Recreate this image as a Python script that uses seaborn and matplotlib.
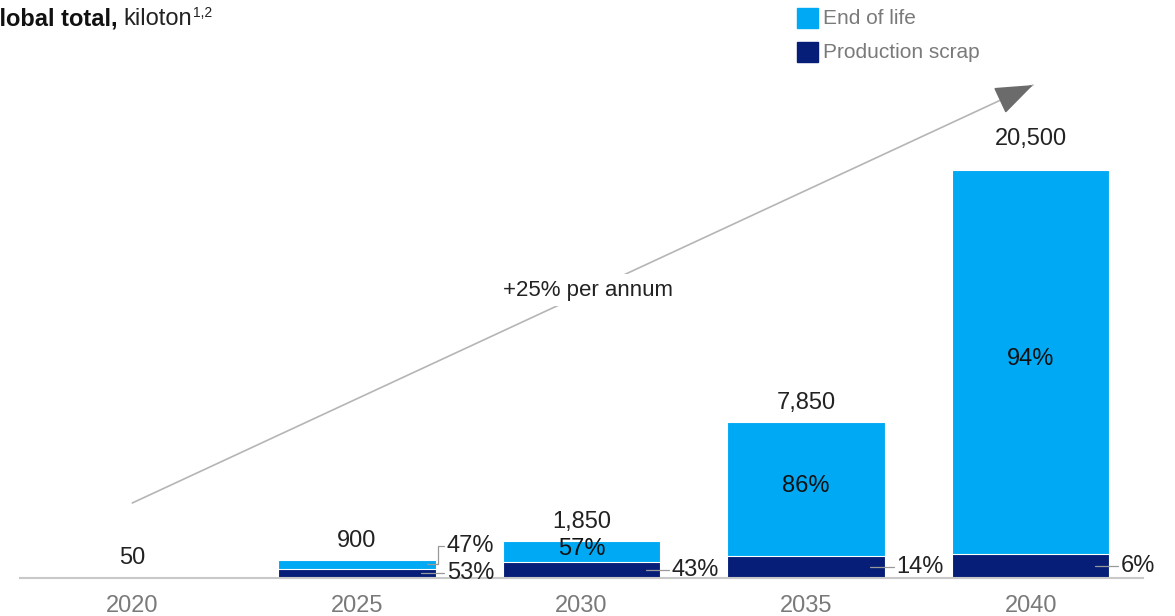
import numpy as np
import pandas as pd
import seaborn as sns
import matplotlib.pyplot as plt

years = ["2020", "2025", "2030", "2035", "2040"]
totals = [50, 900, 1850, 7850, 20500]
eol_share = [50, 47, 57, 86, 94]
scrap_share = [50, 53, 43, 14, 6]
inside_label = [False, False, True, True, True]

LIGHT = "#00A9F4"
DARK = "#061E78"

sns.set_theme(style="white")
plt.rcParams["font.family"] = ["Liberation Sans", "DejaVu Sans"]

df = pd.DataFrame({"year": years, "total": totals, "eol": eol_share, "scrap": scrap_share})
df["scrap_kt"] = df["total"] * df["scrap"] / 100

fig = plt.figure(figsize=(11.75, 6.16), dpi=100)
ax = fig.add_axes([20 / 1175, 38 / 616, (1143 - 20) / 1175, 578 / 616])

sns.barplot(data=df, x="year", y="total", color=LIGHT, width=0.7, ax=ax,
            edgecolor="white", linewidth=0.8, saturation=1)
sns.barplot(data=df, x="year", y="scrap_kt", color=DARK, width=0.7, ax=ax,
            edgecolor="white", linewidth=0.8, saturation=1)

ax.set_xlim(-0.5, 4.5)
ax.set_ylim(0, 29045)
ax.set_xlabel("")
ax.set_ylabel("")
ax.set_yticks([])
sns.despine(ax=ax, left=True, top=True, right=True)
ax.spines["bottom"].set_color("#c8c8c8")
ax.spines["bottom"].set_linewidth(1.5)
ax.tick_params(axis="x", length=0, labelsize=17, labelcolor="#7a7a7a", pad=12)

px = 578 / 29045  # px per kiloton
half = 0.35
for i, row in df.iterrows():
    gap = 20 if i == len(df) - 1 else 8  # last label sits higher, clear of the arrow
    ax.text(i, row["total"] + gap / px, f"{row['total']:,}", ha="center", va="bottom",
            fontsize=17, color="#222222")
    scrap_mid = row["scrap_kt"] / 2
    right = i + half
    if inside_label[i]:
        eol_mid = row["scrap_kt"] + (row["total"] - row["scrap_kt"]) / 2
        ax.text(i, eol_mid + 3 / px, f"{row['eol']}%", ha="center", va="center",
                fontsize=17, color="#111111")
    if i == 0:
        continue
    ax.plot([right - 0.065, right + 0.04], [scrap_mid, scrap_mid], color="#999999", lw=0.9)
    ax.text(right + 0.05, scrap_mid, f"{row['scrap']}%", ha="left", va="center",
            fontsize=17, color="#222222")
    if not inside_label[i]:
        eol_mid = row["scrap_kt"] + (row["total"] - row["scrap_kt"]) / 2
        top_y = eol_mid + 18 / px
        ax.plot([right - 0.04, right + 0.01, right + 0.01, right + 0.04],
                [eol_mid, eol_mid, top_y, top_y], color="#999999", lw=0.9)
        ax.text(right + 0.05, top_y, f"{row['eol']}%", ha="left", va="center",
                fontsize=17, color="#222222")

# growth arrow
x0, y0 = 0.0, 3770
x1, y1 = 4.01, 24770
ax.annotate("", xy=(x1, y1), xytext=(x0, y0),
            arrowprops=dict(arrowstyle="-", color="#b5b5b5", lw=1.2, shrinkA=0, shrinkB=0))
f = 0.035
ax.annotate("", xy=(x1, y1), xytext=(x1 - f * (x1 - x0), y1 - f * (y1 - y0)),
            arrowprops=dict(arrowstyle="-|>,head_length=1.2,head_width=0.45",
                            color="#6b6b6b", lw=1.2, shrinkA=0, shrinkB=0,
                            mutation_scale=20))
ax.text(2.03, 14470, "+25% per annum", ha="center", va="center", fontsize=16,
        color="#222222", bbox=dict(facecolor="white", edgecolor="none", pad=4))

# title (cropped on the left as in the original)
renderer = fig.canvas.get_renderer()
ty = 1 - 19 / 616
t1 = fig.text(-19 / 1175, ty, "Global total,", fontsize=17, fontweight="bold",
              color="#111111", ha="left", va="center")
x_end = t1.get_window_extent(renderer).x1 / fig.bbox.width
t2 = fig.text(x_end + 6 / 1175, ty, "kiloton", fontsize=17, color="#222222",
              ha="left", va="center")
x_end = t2.get_window_extent(renderer).x1 / fig.bbox.width
fig.text(x_end + 1 / 1175, 1 - 13 / 616, "1,2", fontsize=10, color="#222222",
         ha="left", va="center")

# legend
for k, (lab, col) in enumerate([("End of life", LIGHT), ("Production scrap", DARK)]):
    yc = 18 + 34 * k
    fig.patches.append(plt.Rectangle((797 / 1175, 1 - (yc + 10) / 616), 21 / 1175, 20 / 616,
                                     transform=fig.transFigure, color=col))
    fig.text(823 / 1175, 1 - yc / 616, lab, fontsize=15, color="#7a7a7a",
             ha="left", va="center")

fig.savefig("out.png", dpi=100)
